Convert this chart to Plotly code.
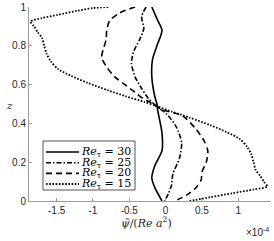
import plotly.graph_objects as go

# ---------------- data (psi in units of 1e-4) ----------------
series_names = ["30", "25", "20", "15"]

z_re30 = [1.00, 0.94, 0.88, 0.81, 0.73, 0.64, 0.54, 0.50, 0.47, 0.35, 0.26, 0.18, 0.12, 0.07, 0.00]
psi_re30 = [-0.19, -0.12, -0.05, -0.11, -0.18, -0.19, -0.15, -0.12, -0.11, -0.05, -0.05, -0.15, -0.19, -0.15, -0.05]

z_re25 = [1.00, 0.95, 0.89, 0.83, 0.77, 0.71, 0.64, 0.58, 0.53, 0.49, 0.45, 0.38, 0.30, 0.22, 0.14, 0.08, 0.04, 0.00]
psi_re25 = [-0.27, -0.33, -0.30, -0.36, -0.44, -0.47, -0.42, -0.33, -0.24, -0.13, 0.01, 0.15, 0.22, 0.19, 0.10, 0.08, 0.04, -0.01]

z_re20 = [1.00, 0.97, 0.93, 0.88, 0.83, 0.78, 0.74, 0.69, 0.64, 0.60, 0.56, 0.53, 0.51, 0.47,
          0.44, 0.37, 0.31, 0.26, 0.20, 0.15, 0.11, 0.07, 0.03, 0.00]
psi_re20 = [-0.42, -0.63, -0.77, -0.81, -0.82, -0.86, -0.88, -0.81, -0.70, -0.56, -0.42, -0.32, -0.22, -0.04,
            0.23, 0.42, 0.53, 0.58, 0.56, 0.50, 0.49, 0.42, 0.29, 0.12]

z_re15 = [1.00, 0.995, 0.98, 0.96, 0.943, 0.925, 0.90, 0.87, 0.84, 0.80, 0.76, 0.72, 0.68, 0.645,
          0.61, 0.57, 0.54, 0.51, 0.49, 0.46, 0.43, 0.39, 0.355, 0.32, 0.28, 0.24, 0.20, 0.16,
          0.13, 0.10, 0.075, 0.06, 0.04, 0.02, 0.00]
psi_re15 = [-0.79, -1.00, -1.22, -1.48, -1.70, -1.86, -1.81, -1.76, -1.70, -1.67, -1.64, -1.58, -1.48, -1.30,
            -1.08, -0.79, -0.55, -0.29, -0.13, 0.09, 0.33, 0.62, 0.84, 1.02, 1.12, 1.18, 1.21, 1.24,
            1.30, 1.35, 1.40, 1.22, 0.92, 0.62, 0.33]

x_tickvals = [-1.5, -1, -0.5, 0, 0.5, 1]
x_ticktext = ["-1.5", "-1", "-0.5", "0", "0.5", "1"]
y_tickvals = [0, 0.2, 0.4, 0.6, 0.8, 1]
y_ticktext = ["0", "0.2", "0.4", "0.6", "0.8", "1"]

# ---------------- styling ----------------
W, H = 274, 241
L, R, T, B = 29, 271, 7, 201
styles = [
    dict(dash="solid", width=1.6),
    dict(dash="5px,2px,1.5px,2px", width=1.6),
    dict(dash="6px,4px", width=1.6),
    dict(dash="1.6px,1.6px", width=1.8),
]
curves = [(psi_re30, z_re30), (psi_re25, z_re25), (psi_re20, z_re20), (psi_re15, z_re15)]

fig = go.Figure()
for (xs, zs), st, nm in zip(curves, styles, series_names):
    fig.add_trace(go.Scatter(
        x=xs, y=zs, mode="lines", name=nm, showlegend=False,
        line=dict(color="black", width=st["width"], dash=st["dash"], shape="spline", smoothing=0.7),
    ))


def px2paper(px, py):
    return (px - L) / (R - L), (B - py) / (B - T)


axis_col = "#9c9c9c"
tick_font = dict(family="Liberation Sans, Arial, sans-serif", size=10, color="#262626")

fig.update_layout(
    width=W, height=H,
    margin=dict(l=L, r=W - R, t=T, b=H - B, pad=0),
    paper_bgcolor="white", plot_bgcolor="white",
    xaxis=dict(range=[-1.88, 1.45], tickvals=x_tickvals, ticktext=x_ticktext,
               ticks="inside", ticklen=3, tickcolor=axis_col, tickwidth=1,
               showline=True, linecolor=axis_col, linewidth=1,
               showgrid=False, zeroline=False, tickfont=tick_font, fixedrange=True,
               automargin=False),
    yaxis=dict(range=[0, 1], tickvals=y_tickvals, ticktext=y_ticktext,
               ticks="inside", ticklen=3, tickcolor=axis_col, tickwidth=1,
               showline=True, linecolor=axis_col, linewidth=1,
               showgrid=False, zeroline=False, tickfont=tick_font, fixedrange=True,
               automargin=False),
    showlegend=False,
)

serif = "DejaVu Serif, Liberation Serif, serif"
annotations = []
shapes = []

# axis labels
x0, y0 = px2paper(146, 222)
annotations.append(dict(x=x0, y=y0, xref="paper", yref="paper", showarrow=False,
                        text="<i>ψ\u0303</i>/(<i>Re a</i><sup>2</sup>)",
                        font=dict(family=serif, size=11, color="#262626"),
                        xanchor="center", yanchor="middle"))
x0, y0 = px2paper(257, 232)
annotations.append(dict(x=x0, y=y0, xref="paper", yref="paper", showarrow=False,
                        text="×10<sup>-4</sup>", font=tick_font, xanchor="center", yanchor="middle"))
x0, y0 = px2paper(9, 105)
annotations.append(dict(x=x0, y=y0, xref="paper", yref="paper", showarrow=False,
                        text="<i>z</i>", font=dict(family=serif, size=10, color="#262626"),
                        xanchor="center", yanchor="middle"))

# legend (manual, compact like the reference)
bx0, by0 = px2paper(43, 190)
bx1, by1 = px2paper(135, 141)
shapes.append(dict(type="rect", xref="paper", yref="paper", x0=bx0, y0=by0, x1=bx1, y1=by1,
                   line=dict(color="#262626", width=0.8), fillcolor="white", layer="above"))
row_y = [152, 162.7, 173.4, 184]
for st, nm, ry in zip(styles, series_names, row_y):
    lx0, ly = px2paper(46, ry)
    lx1, _ = px2paper(79, ry)
    shapes.append(dict(type="line", xref="paper", yref="paper", x0=lx0, x1=lx1, y0=ly, y1=ly,
                       line=dict(color="black", width=st["width"], dash=st["dash"]), layer="above"))
    tx, _ = px2paper(80, ry)
    annotations.append(dict(x=tx, y=ly, xref="paper", yref="paper", showarrow=False,
                            text=f"<i>Re</i><sub>τ</sub> = {nm}",
                            font=dict(family=serif, size=11, color="black"),
                            xanchor="left", yanchor="middle", borderpad=0))

fig.update_layout(annotations=annotations, shapes=shapes)
fig.write_html("out.html", config={"displayModeBar": False},
               post_script="document.body.style.margin='0';document.body.style.padding='0';")
